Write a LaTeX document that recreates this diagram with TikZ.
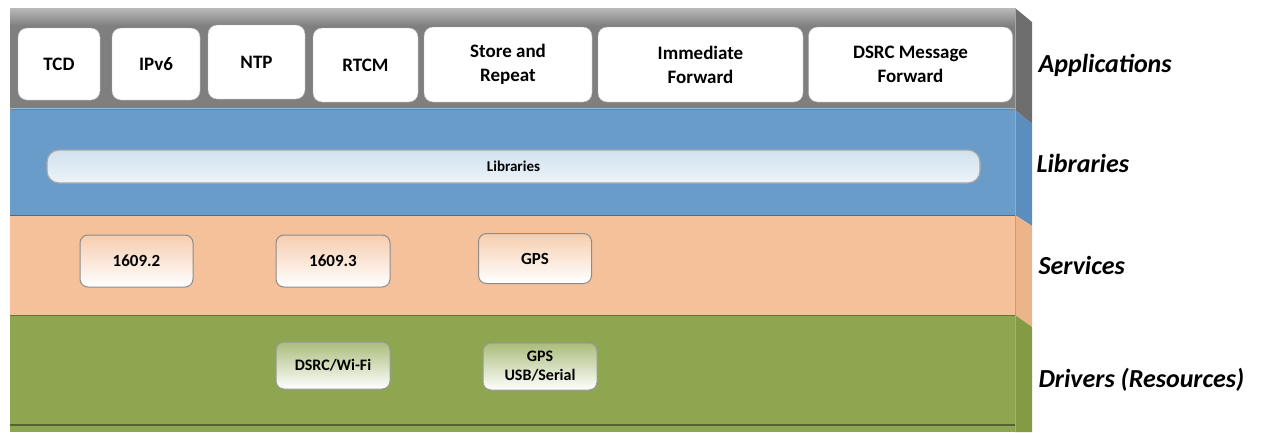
\documentclass[tikz,border=0pt]{standalone}
\usepackage{fontspec}
\setmainfont{Carlito}
\usepackage{tikz}
\usetikzlibrary{positioning, shadows}

\definecolor{appgray}{HTML}{7F7F7F}
\definecolor{appside}{HTML}{6E6E6E}
\definecolor{libblue}{HTML}{6A9CC9}
\definecolor{libside}{HTML}{5C8EBD}
\definecolor{srvorange}{HTML}{F4C19B}
\definecolor{srvside}{HTML}{ECB589}
\definecolor{drvgreen}{HTML}{8EA64F}
\definecolor{drvside}{HTML}{839B45}

\tikzset{
  appbox/.style={draw=gray!60, fill=white, rounded corners=9pt, align=center,
    font=\fontsize{19}{24}\selectfont\bfseries, drop shadow={shadow xshift=1pt, shadow yshift=-1pt, opacity=0.35}},
  libbar/.style={draw=gray!70, line width=1.2pt, rounded corners=12pt, top color=libblue!30!white,
    bottom color=libblue!12!white, font=\fontsize{15}{17}\selectfont\bfseries},
  srvbox/.style={draw=black!45, line width=1pt, rounded corners=8pt, top color=srvorange!80!white,
    bottom color=white, align=center, font=\fontsize{17}{20}\selectfont\bfseries},
  drvbox/.style={draw=black!40, line width=1pt, rounded corners=8pt, top color=drvgreen!75!white,
    bottom color=white, align=center, font=\fontsize{16}{19}\selectfont\bfseries},
  tierlabel/.style={anchor=west, font=\fontsize{26}{30}\selectfont\bfseries\itshape}
}

\begin{document}
\begin{tikzpicture}[x=1pt, y=-1pt]
    \useasboundingbox (0,0) rectangle (1262,432);

    % layers
    \fill[appgray] (10,8) rectangle (1015,110);
    \shade[top color=gray!55, bottom color=appgray] (10,8) rectangle (1015,26);
    \fill[libblue] (10,110) rectangle (1015,215);
    \draw[libblue!70!white, line width=1.5pt] (10,108.5) -- (1015,108.5);
    \fill[srvorange] (10,215) rectangle (1015,315);
    \fill[drvgreen] (10,315) rectangle (1015,432);
    \draw[libblue!70!black, line width=0.8pt] (10,215) -- (1015,215);
    \draw[drvgreen!70!black, line width=0.8pt] (10,315) -- (1015,315);
    \draw[drvgreen!60!black, line width=1.5pt] (10,425) -- (1015,425);

    % side faces
    \fill[appside] (1015,8) -- (1032,22) -- (1032,124) -- (1015,110) -- cycle;
    \fill[libside] (1015,110) -- (1032,124) -- (1032,226) -- (1015,215) -- cycle;
    \fill[srvside] (1015,215) -- (1032,226) -- (1032,327) -- (1015,315) -- cycle;
    \fill[drvside] (1015,315) -- (1032,327) -- (1032,432) -- (1015,432) -- cycle;
    \draw[black!35, line width=0.8pt] (1015,8) -- (1015,432);

    % applications
    \node[appbox, minimum width=82pt, minimum height=72pt] (tcd) at (59,64) {TCD};
    \node[appbox, minimum width=88pt, minimum height=72pt] (ipv6) at (156,64) {IPv6};
    \node[appbox, minimum width=97pt, minimum height=74pt] (ntp) at (256.5,62) {NTP};
    \node[appbox, minimum width=105pt, minimum height=74pt] (rtcm) at (365.5,65) {RTCM};
    \node[appbox, minimum width=168pt, minimum height=75pt] (store) at (508,64.5) {Store and\\Repeat};
    \node[appbox, minimum width=205pt, minimum height=75pt] (immed) at (700.5,64.5) {Immediate\\Forward};
    \node[appbox, minimum width=204pt, minimum height=75pt] (dsrcmsg) at (910.5,64.5) {DSRC Message\\Forward};

    % libraries
    \node[libbar, minimum width=933pt, minimum height=33pt] (libs) at (513.5,166.5) {Libraries};

    % services
    \node[srvbox, minimum width=113pt, minimum height=52pt] (ieee2) at (136.5,261) {1609.2};
    \node[srvbox, minimum width=114pt, minimum height=52pt] (ieee3) at (333,261) {1609.3};
    \node[srvbox, minimum width=113pt, minimum height=50pt] (gpssrv) at (535,258.5) {GPS};

    % drivers
    \node[drvbox, minimum width=114pt, minimum height=47pt] (dsrcwifi) at (333,365.5) {DSRC/Wi-Fi};
    \node[drvbox, minimum width=114pt, minimum height=47pt] (gpsdrv) at (540,366.5) {GPS\\USB/Serial};

    % tier labels
    \node[tierlabel] (lapps) at (1035,65) {Applications};
    \node[tierlabel] (llibs) at (1033,163) {Libraries};
    \node[tierlabel] (lsrv) at (1035,265) {Services};
    \node[tierlabel] (ldrv) at (1035,380) {Drivers (Resources)};
\end{tikzpicture}
\end{document}
